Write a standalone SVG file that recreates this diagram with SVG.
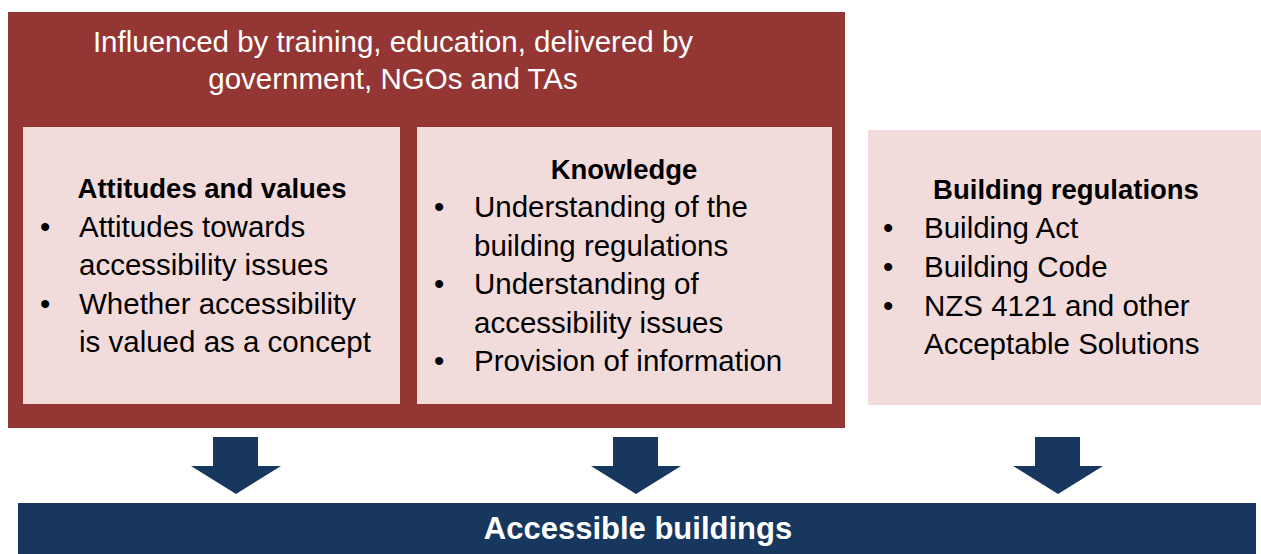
<svg xmlns="http://www.w3.org/2000/svg" width="1261" height="554" viewBox="0 0 1261 554">
<style>
.pink{fill:#F2DCDB;}
.body{font-family:"Liberation Sans",Arial,sans-serif;font-size:29.5px;fill:#000;}
.head{font-family:"Liberation Sans",Arial,sans-serif;font-size:27.5px;font-weight:bold;fill:#000;text-anchor:middle;}
.title{font-family:"Liberation Sans",Arial,sans-serif;font-size:29.5px;fill:#fff;text-anchor:middle;}
.arrow{fill:#17375E;}
</style>
<rect width="1261" height="554" fill="#fff"/>
<g id="influence">
<rect x="8" y="12" width="837" height="416" fill="#943634"/>
<text class="title" x="393" y="52">Influenced by training, education, delivered by</text>
<text class="title" x="393" y="89">government, NGOs and TAs</text>
</g>
<g id="attitudes">
<rect class="pink" x="23" y="127" width="377" height="277"/>
<text class="head" x="212" y="198">Attitudes and values</text>
<text class="body" x="40" y="237">•</text>
<text class="body" x="79" y="237">Attitudes towards</text>
<text class="body" x="79" y="275">accessibility issues</text>
<text class="body" x="40" y="314">•</text>
<text class="body" x="79" y="314">Whether accessibility</text>
<text class="body" x="79" y="352">is valued as a concept</text>
</g>
<g id="knowledge">
<rect class="pink" x="417" y="127" width="415" height="277"/>
<text class="head" x="624" y="179">Knowledge</text>
<text class="body" x="434" y="217">•</text>
<text class="body" x="474" y="217">Understanding of the</text>
<text class="body" x="474" y="256">building regulations</text>
<text class="body" x="434" y="294">•</text>
<text class="body" x="474" y="294">Understanding of</text>
<text class="body" x="474" y="333">accessibility issues</text>
<text class="body" x="434" y="371">•</text>
<text class="body" x="474" y="371">Provision of information</text>
</g>
<g id="regulations">
<rect class="pink" x="868" y="130" width="393" height="275"/>
<text class="head" x="1066" y="199">Building regulations</text>
<text class="body" x="883" y="238">•</text>
<text class="body" x="924" y="238">Building Act</text>
<text class="body" x="883" y="277">•</text>
<text class="body" x="924" y="277">Building Code</text>
<text class="body" x="883" y="316">•</text>
<text class="body" x="924" y="316">NZS 4121 and other</text>
<text class="body" x="924" y="354">Acceptable Solutions</text>
</g>
<g id="connectors">
<polygon class="arrow" points="213,437 258,437 258,466 281,466 236,494 191,466 213,466"/>
<polygon class="arrow" points="613,437 658,437 658,466 681,466 636,494 591,466 613,466"/>
<polygon class="arrow" points="1035,437 1080,437 1080,466 1103,466 1058,494 1013,466 1035,466"/>
</g>
<g id="accessible">
<rect x="18" y="503" width="1238" height="51" fill="#17375E"/>
<text x="638" y="539" font-family="'Liberation Sans',Arial,sans-serif" font-size="31" font-weight="bold" fill="#fff" text-anchor="middle">Accessible buildings</text>
</g>
</svg>
